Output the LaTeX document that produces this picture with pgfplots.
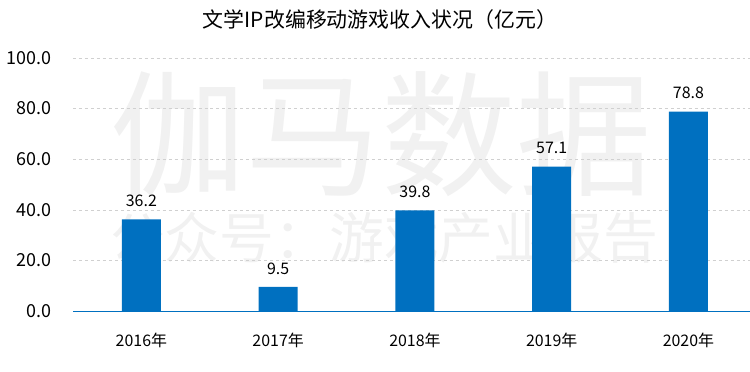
\documentclass[border=0pt]{standalone}
\usepackage{pgfplots}
\pgfplotsset{compat=1.18}
\usepackage{fontspec}
\setmainfont{Noto Sans CJK SC}
\definecolor{barblue}{HTML}{0070C0}
\definecolor{wm}{HTML}{F1F1F1}
\definecolor{gridc}{HTML}{D0D0D0}
\begin{document}
\begin{tikzpicture}[x=1bp,y=1bp]
\useasboundingbox (0,0) rectangle (750,371);
% watermark
\node[text=wm,font=\fontsize{136}{136}\selectfont] at (381,237) {伽马数据};
\node[text=wm,font=\fontsize{55}{55}\selectfont] at (384,133) {公众号：游戏产业报告};
\node[font=\fontsize{21}{21}\selectfont] at (380,351) {文学IP改编移动游戏收入状况（亿元）};
\begin{axis}[
  at={(73bp,60bp)}, anchor=south west,
  scale only axis, width=677bp, height=253bp,
  ymin=0, ymax=100, ytick={0,20,...,100},
  xmin=-0.5, xmax=4.45,
  xtick={0,1,2,3,4},
  xticklabels={2016年,2017年,2018年,2019年,2020年},
  axis x line*=bottom, axis y line*=left,
  x axis line style={barblue, line width=0.8pt, -},
  y axis line style={draw=none},
  ymajorgrids, grid style={gridc, dashed, line width=0.6pt},
  major tick length=0pt,
  y tick label style={font=\fontsize{18}{18}\selectfont, xshift=-18bp, /pgf/number format/.cd, fixed, fixed zerofill, precision=1},
  /pgf/number format/assume math mode=true,
  x tick label style={font=\fontsize{16}{16}\selectfont, yshift=-19bp},
  clip=false,
]
\addplot[ybar, bar width=39bp, fill=barblue, draw=none,
  nodes near coords, nodes near coords style={font=\fontsize{16}{16}\selectfont, text=black, yshift=9bp, /pgf/number format/.cd, fixed, fixed zerofill, precision=1}]
  coordinates {(0,36.2) (1,9.5) (2,39.8) (3,57.1) (4,78.8)};
\end{axis}
\end{tikzpicture}
\end{document}
